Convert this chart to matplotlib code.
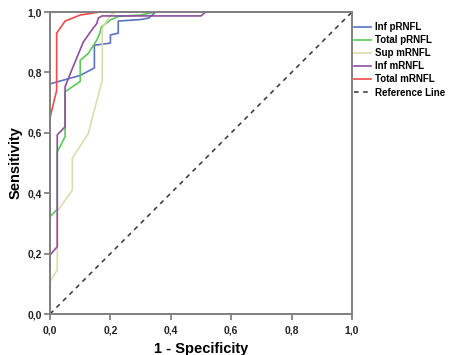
import matplotlib
matplotlib.use("Agg")
import matplotlib.pyplot as plt
from matplotlib.ticker import FuncFormatter

# Data
inf_p_x = [0, 0, 0.10, 0.147, 0.147, 0.20, 0.20, 0.226, 0.226, 0.30, 0.327, 0.35, 1.0]
inf_p_y = [0, 0.762, 0.79, 0.815, 0.89, 0.897, 0.924, 0.93, 0.970, 0.975, 0.98, 1.0, 1.0]

tot_p_x = [0, 0, 0.024, 0.024, 0.05, 0.05, 0.10, 0.10, 0.127, 0.155, 0.165, 0.17, 0.183, 0.20, 0.226, 0.30, 0.35, 1.0]
tot_p_y = [0, 0.322, 0.347, 0.537, 0.587, 0.736, 0.77, 0.84, 0.863, 0.907, 0.93, 0.95, 0.96, 0.974, 0.985, 0.99, 1.0, 1.0]

sup_m_x = [0, 0, 0.024, 0.024, 0.074, 0.074, 0.127, 0.173, 0.173, 0.20, 0.22, 1.0]
sup_m_y = [0, 0.107, 0.146, 0.34, 0.41, 0.516, 0.598, 0.775, 0.946, 0.99, 1.0, 1.0]

inf_m_x = [0, 0, 0.024, 0.024, 0.05, 0.05, 0.077, 0.11, 0.138, 0.155, 0.16, 0.172, 0.50, 0.515, 1.0]
inf_m_y = [0, 0.195, 0.223, 0.593, 0.62, 0.753, 0.82, 0.90, 0.94, 0.962, 0.98, 0.987, 0.987, 1.0, 1.0]

tot_m_x = [0, 0, 0.022, 0.022, 0.05, 0.10, 0.166, 1.0]
tot_m_y = [0, 0.65, 0.74, 0.93, 0.97, 0.99, 1.0, 1.0]

ref_x = [0, 1]
ref_y = [0, 1]

labels = ["Inf pRNFL", "Total pRNFL", "Sup mRNFL", "Inf mRNFL", "Total mRNFL", "Reference Line"]
colors = ["#5a74c4", "#5cc85c", "#dcdcae", "#8e4f9f", "#f04a4a", "#333333"]

ticks = [0, 0.2, 0.4, 0.6, 0.8, 1.0]

plt.rcParams["font.family"] = ["Liberation Sans", "DejaVu Sans"]

fig = plt.figure(figsize=(4.5, 3.55), dpi=100)
ax = fig.add_axes([50/450, 41/355, 302/450, 302/355])

series = [(inf_p_x, inf_p_y), (tot_p_x, tot_p_y), (sup_m_x, sup_m_y),
          (inf_m_x, inf_m_y), (tot_m_x, tot_m_y)]
for (xs, ys), c, lab in zip(series, colors[:5], labels[:5]):
    ax.plot(xs, ys, color=c, lw=1.2, label=lab)
ax.plot(ref_x, ref_y, color=colors[5], lw=1.1, ls=(0, (3, 3)), label=labels[5])

ax.set_xlim(0, 1)
ax.set_ylim(0, 1)
ax.set_xticks(ticks)
ax.set_yticks(ticks)
fmt = FuncFormatter(lambda v, p: f"{v:.1f}".replace(".", ","))
ax.xaxis.set_major_formatter(fmt)
ax.yaxis.set_major_formatter(fmt)
for lab in ax.get_xticklabels() + ax.get_yticklabels():
    lab.set_fontweight("bold")
ax.tick_params(labelsize=7.5, length=4, width=1.2, color="#777777", labelcolor="#222222")
ax.tick_params(axis="x", pad=4)
ax.tick_params(axis="y", pad=2)
for s in ax.spines.values():
    s.set_color("#808080")
    s.set_linewidth(1.4)

ax.set_xlabel("1 - Specificity", fontsize=10.5, fontweight="bold", labelpad=5)
ax.set_ylabel("Sensitivity", fontsize=10.5, fontweight="bold", labelpad=3)

leg = ax.legend(loc="upper left", bbox_to_anchor=(1.003, 0.97), frameon=False,
                prop={"size": 7, "weight": "bold"}, handlelength=1.75,
                handletextpad=0.4, labelspacing=0.32, borderaxespad=0.0, borderpad=0.1)

fig.savefig("out.png", dpi=100)
